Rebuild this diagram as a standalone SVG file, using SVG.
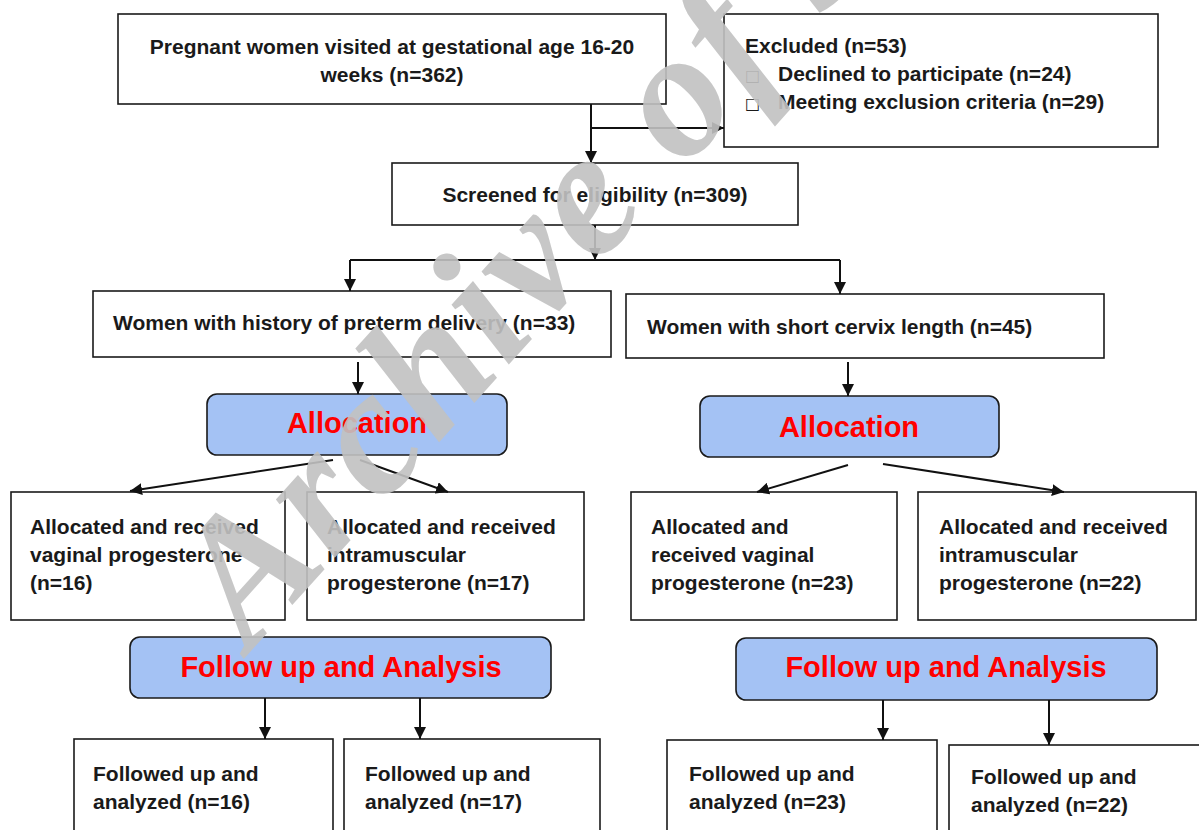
<svg xmlns="http://www.w3.org/2000/svg" width="1199" height="830" viewBox="0 0 1199 830">
<defs>
<style>
.box{fill:#ffffff;stroke:#1a1a1a;stroke-width:1.6}
.hdr{fill:#a4c2f4;stroke:#1a1a1a;stroke-width:1.6}
.t{font-family:"Liberation Sans",Arial,sans-serif;font-weight:bold;font-size:21px;fill:#1a1a1a}
.h{font-family:"Liberation Sans",Arial,sans-serif;font-weight:bold;font-size:29px;fill:#ff0000;text-anchor:middle}
.c{text-anchor:middle}
.ln{fill:none;stroke:#111;stroke-width:2}
.wm{font-family:"Liberation Serif","Times New Roman",serif;font-weight:bold;font-style:italic;font-size:180px;letter-spacing:3px;fill:#c2c2c2;opacity:0.9}
</style>
<marker id="ah" viewBox="0 0 12 12" refX="12" refY="6" markerWidth="12" markerHeight="12" markerUnits="userSpaceOnUse" orient="auto">
<path d="M0,0 L12,6 L0,12 Z" fill="#111"/>
</marker>
</defs>
<rect width="1199" height="830" fill="#ffffff"/>

<g id="n-pregnant">
<rect class="box" x="118" y="14" width="548" height="90"/>
<text class="t c" x="392" y="54">Pregnant women visited at gestational age 16-20</text>
<text class="t c" x="392" y="82">weeks (n=362)</text>
</g>
<g id="n-excluded">
<rect class="box" x="724" y="14" width="434" height="133"/>
<text class="t" x="745" y="53">Excluded (n=53)</text>
<text class="t" x="745" y="81" style="font-weight:normal;font-family:'DejaVu Sans',sans-serif;font-size:16px">□</text>
<text class="t" x="778" y="81">Declined to participate (n=24)</text>
<text class="t" x="745" y="109" style="font-weight:normal;font-family:'DejaVu Sans',sans-serif;font-size:16px">□</text>
<text class="t" x="778" y="109">Meeting exclusion criteria (n=29)</text>
</g>
<g id="n-screened">
<rect class="box" x="392" y="163" width="406" height="62"/>
<text class="t c" x="595" y="202">Screened for eligibility (n=309)</text>
</g>
<g id="n-history">
<rect class="box" x="93" y="291" width="518" height="66"/>
<text class="t" x="113" y="330">Women with history of preterm delivery (n=33)</text>
</g>
<g id="n-short">
<rect class="box" x="626" y="294" width="478" height="64"/>
<text class="t" x="647" y="334">Women with short cervix length (n=45)</text>
</g>
<g id="n-alloc-l">
<rect class="hdr" x="207" y="394" width="300" height="61" rx="10"/>
<text class="h" x="357" y="433">Allocation</text>
</g>
<g id="n-alloc-r">
<rect class="hdr" x="700" y="396" width="299" height="61" rx="10"/>
<text class="h" x="849" y="437">Allocation</text>
</g>
<g id="n-l1">
<rect class="box" x="11" y="492" width="274" height="128"/>
<text class="t" x="30" y="534">Allocated and received</text>
<text class="t" x="30" y="562">vaginal progesterone</text>
<text class="t" x="30" y="590">(n=16)</text>
</g>
<g id="n-l2">
<rect class="box" x="307" y="492" width="277" height="128"/>
<text class="t" x="327" y="534">Allocated and received</text>
<text class="t" x="327" y="562">intramuscular</text>
<text class="t" x="327" y="590">progesterone (n=17)</text>
</g>
<g id="n-r1">
<rect class="box" x="631" y="492" width="266" height="128"/>
<text class="t" x="651" y="534">Allocated and</text>
<text class="t" x="651" y="562">received vaginal</text>
<text class="t" x="651" y="590">progesterone (n=23)</text>
</g>
<g id="n-r2">
<rect class="box" x="918" y="492" width="278" height="128"/>
<text class="t" x="939" y="534">Allocated and received</text>
<text class="t" x="939" y="562">intramuscular</text>
<text class="t" x="939" y="590">progesterone (n=22)</text>
</g>
<g id="n-follow-l">
<rect class="hdr" x="130" y="637" width="421" height="61" rx="10"/>
<text class="h" x="341" y="677">Follow up and Analysis</text>
</g>
<g id="n-follow-r">
<rect class="hdr" x="736" y="638" width="421" height="62" rx="10"/>
<text class="h" x="946" y="677">Follow up and Analysis</text>
</g>
<g id="n-b1">
<rect class="box" x="74" y="739" width="259" height="110"/>
<text class="t" x="93" y="781">Followed up and</text>
<text class="t" x="93" y="809">analyzed (n=16)</text>
</g>
<g id="n-b2">
<rect class="box" x="344" y="739" width="256" height="110"/>
<text class="t" x="365" y="781">Followed up and</text>
<text class="t" x="365" y="809">analyzed (n=17)</text>
</g>
<g id="n-b3">
<rect class="box" x="667" y="740" width="270" height="110"/>
<text class="t" x="689" y="781">Followed up and</text>
<text class="t" x="689" y="809">analyzed (n=23)</text>
</g>
<g id="n-b4">
<rect class="box" x="949" y="745" width="260" height="110"/>
<text class="t" x="971" y="784">Followed up and</text>
<text class="t" x="971" y="812">analyzed (n=22)</text>
</g>

<g id="connectors">
<path class="ln" d="M591,104 V163" marker-end="url(#ah)"/>
<path class="ln" d="M591,128 H724" marker-end="url(#ah)"/>
<path class="ln" d="M595,225 V260" marker-end="url(#ah)"/>
<path class="ln" d="M350,260 H840"/>
<path class="ln" d="M350,260 V291" marker-end="url(#ah)"/>
<path class="ln" d="M840,260 V294" marker-end="url(#ah)"/>
<path class="ln" d="M358,362 V394" marker-end="url(#ah)"/>
<path class="ln" d="M848,362 V396" marker-end="url(#ah)"/>
<path class="ln" d="M333,460 L130,491" marker-end="url(#ah)"/>
<path class="ln" d="M360,460 L448,492" marker-end="url(#ah)"/>
<path class="ln" d="M848,465 L757,492" marker-end="url(#ah)"/>
<path class="ln" d="M883,464 L1064,492" marker-end="url(#ah)"/>
<path class="ln" d="M265,698 V739" marker-end="url(#ah)"/>
<path class="ln" d="M420,698 V739" marker-end="url(#ah)"/>
<path class="ln" d="M883,700 V740" marker-end="url(#ah)"/>
<path class="ln" d="M1049,700 V745" marker-end="url(#ah)"/>
</g>

<text class="wm" transform="translate(250,652) rotate(-48)">Archive of S</text>
</svg>
